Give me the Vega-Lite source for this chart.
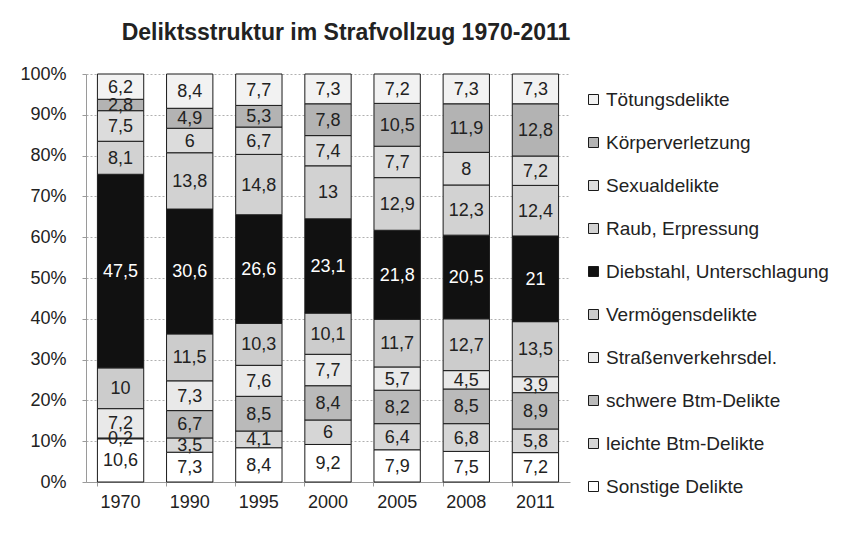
{
  "$schema": "https://vega.github.io/schema/vega-lite/v6.json",
  "autosize": {"type": "none"},
  "padding": {"left": 86, "top": 74, "right": 271, "bottom": 54},
  "width": 484,
  "height": 408,
  "background": "white",
  "title": {
    "text": "Deliktsstruktur im Strafvollzug 1970-2011",
    "font": "Liberation Sans",
    "fontSize": 23,
    "fontWeight": "bold",
    "color": "#222222",
    "anchor": "middle",
    "dx": 18,
    "offset": 20
  },
  "data": {
    "values": [
      {"year": "1970", "cat": "Sonstige Delikte", "k": 1, "value": 10.6},
      {"year": "1970", "cat": "schwere Btm-Delikte", "k": 3, "value": 0.2},
      {"year": "1970", "cat": "Straßenverkehrsdel.", "k": 4, "value": 7.2},
      {"year": "1970", "cat": "Vermögensdelikte", "k": 5, "value": 10},
      {"year": "1970", "cat": "Diebstahl, Unterschlagung", "k": 6, "value": 47.5},
      {"year": "1970", "cat": "Raub, Erpressung", "k": 7, "value": 8.1},
      {"year": "1970", "cat": "Sexualdelikte", "k": 8, "value": 7.5},
      {"year": "1970", "cat": "Körperverletzung", "k": 9, "value": 2.8},
      {"year": "1970", "cat": "Tötungsdelikte", "k": 10, "value": 6.2},

      {"year": "1990", "cat": "Sonstige Delikte", "k": 1, "value": 7.3},
      {"year": "1990", "cat": "leichte Btm-Delikte", "k": 2, "value": 3.5},
      {"year": "1990", "cat": "schwere Btm-Delikte", "k": 3, "value": 6.7},
      {"year": "1990", "cat": "Straßenverkehrsdel.", "k": 4, "value": 7.3},
      {"year": "1990", "cat": "Vermögensdelikte", "k": 5, "value": 11.5},
      {"year": "1990", "cat": "Diebstahl, Unterschlagung", "k": 6, "value": 30.6},
      {"year": "1990", "cat": "Raub, Erpressung", "k": 7, "value": 13.8},
      {"year": "1990", "cat": "Sexualdelikte", "k": 8, "value": 6},
      {"year": "1990", "cat": "Körperverletzung", "k": 9, "value": 4.9},
      {"year": "1990", "cat": "Tötungsdelikte", "k": 10, "value": 8.4},

      {"year": "1995", "cat": "Sonstige Delikte", "k": 1, "value": 8.4},
      {"year": "1995", "cat": "leichte Btm-Delikte", "k": 2, "value": 4.1},
      {"year": "1995", "cat": "schwere Btm-Delikte", "k": 3, "value": 8.5},
      {"year": "1995", "cat": "Straßenverkehrsdel.", "k": 4, "value": 7.6},
      {"year": "1995", "cat": "Vermögensdelikte", "k": 5, "value": 10.3},
      {"year": "1995", "cat": "Diebstahl, Unterschlagung", "k": 6, "value": 26.6},
      {"year": "1995", "cat": "Raub, Erpressung", "k": 7, "value": 14.8},
      {"year": "1995", "cat": "Sexualdelikte", "k": 8, "value": 6.7},
      {"year": "1995", "cat": "Körperverletzung", "k": 9, "value": 5.3},
      {"year": "1995", "cat": "Tötungsdelikte", "k": 10, "value": 7.7},

      {"year": "2000", "cat": "Sonstige Delikte", "k": 1, "value": 9.2},
      {"year": "2000", "cat": "leichte Btm-Delikte", "k": 2, "value": 6},
      {"year": "2000", "cat": "schwere Btm-Delikte", "k": 3, "value": 8.4},
      {"year": "2000", "cat": "Straßenverkehrsdel.", "k": 4, "value": 7.7},
      {"year": "2000", "cat": "Vermögensdelikte", "k": 5, "value": 10.1},
      {"year": "2000", "cat": "Diebstahl, Unterschlagung", "k": 6, "value": 23.1},
      {"year": "2000", "cat": "Raub, Erpressung", "k": 7, "value": 13},
      {"year": "2000", "cat": "Sexualdelikte", "k": 8, "value": 7.4},
      {"year": "2000", "cat": "Körperverletzung", "k": 9, "value": 7.8},
      {"year": "2000", "cat": "Tötungsdelikte", "k": 10, "value": 7.3},

      {"year": "2005", "cat": "Sonstige Delikte", "k": 1, "value": 7.9},
      {"year": "2005", "cat": "leichte Btm-Delikte", "k": 2, "value": 6.4},
      {"year": "2005", "cat": "schwere Btm-Delikte", "k": 3, "value": 8.2},
      {"year": "2005", "cat": "Straßenverkehrsdel.", "k": 4, "value": 5.7},
      {"year": "2005", "cat": "Vermögensdelikte", "k": 5, "value": 11.7},
      {"year": "2005", "cat": "Diebstahl, Unterschlagung", "k": 6, "value": 21.8},
      {"year": "2005", "cat": "Raub, Erpressung", "k": 7, "value": 12.9},
      {"year": "2005", "cat": "Sexualdelikte", "k": 8, "value": 7.7},
      {"year": "2005", "cat": "Körperverletzung", "k": 9, "value": 10.5},
      {"year": "2005", "cat": "Tötungsdelikte", "k": 10, "value": 7.2},

      {"year": "2008", "cat": "Sonstige Delikte", "k": 1, "value": 7.5},
      {"year": "2008", "cat": "leichte Btm-Delikte", "k": 2, "value": 6.8},
      {"year": "2008", "cat": "schwere Btm-Delikte", "k": 3, "value": 8.5},
      {"year": "2008", "cat": "Straßenverkehrsdel.", "k": 4, "value": 4.5},
      {"year": "2008", "cat": "Vermögensdelikte", "k": 5, "value": 12.7},
      {"year": "2008", "cat": "Diebstahl, Unterschlagung", "k": 6, "value": 20.5},
      {"year": "2008", "cat": "Raub, Erpressung", "k": 7, "value": 12.3},
      {"year": "2008", "cat": "Sexualdelikte", "k": 8, "value": 8},
      {"year": "2008", "cat": "Körperverletzung", "k": 9, "value": 11.9},
      {"year": "2008", "cat": "Tötungsdelikte", "k": 10, "value": 7.3},

      {"year": "2011", "cat": "Sonstige Delikte", "k": 1, "value": 7.2},
      {"year": "2011", "cat": "leichte Btm-Delikte", "k": 2, "value": 5.8},
      {"year": "2011", "cat": "schwere Btm-Delikte", "k": 3, "value": 8.9},
      {"year": "2011", "cat": "Straßenverkehrsdel.", "k": 4, "value": 3.9},
      {"year": "2011", "cat": "Vermögensdelikte", "k": 5, "value": 13.5},
      {"year": "2011", "cat": "Diebstahl, Unterschlagung", "k": 6, "value": 21},
      {"year": "2011", "cat": "Raub, Erpressung", "k": 7, "value": 12.4},
      {"year": "2011", "cat": "Sexualdelikte", "k": 8, "value": 7.2},
      {"year": "2011", "cat": "Körperverletzung", "k": 9, "value": 12.8},
      {"year": "2011", "cat": "Tötungsdelikte", "k": 10, "value": 7.3}
    ]
  },
  "transform": [
    {"stack": "value", "groupby": ["year"], "sort": [{"field": "k", "order": "ascending"}], "offset": "normalize", "as": ["y0", "y1"]},
    {"calculate": "(datum.y0 + datum.y1) / 2", "as": "ymid"}
  ],
  "encoding": {
    "x": {
      "field": "year",
      "type": "ordinal",
      "title": null,
      "scale": {"paddingInner": 0.33, "paddingOuter": 0.165},
      "axis": {
        "labelAngle": 0,
        "labelFont": "Liberation Sans",
        "labelFontSize": 18,
        "labelColor": "#222222",
        "labelPadding": 7,
        "domainColor": "#9a9a9a",
        "tickColor": "#9a9a9a",
        "tickSize": 4,
        "bandPosition": 0
      }
    }
  },
  "layer": [
    {
      "mark": {"type": "bar", "stroke": "#1a1a1a", "strokeWidth": 1},
      "encoding": {
        "y": {
          "field": "y0",
          "type": "quantitative",
          "title": null,
          "scale": {"domain": [0, 1]},
          "axis": {
            "format": ".0%",
            "values": [0, 0.1, 0.2, 0.3, 0.4, 0.5, 0.6, 0.7, 0.8, 0.9, 1],
            "labelFont": "Liberation Sans",
            "labelFontSize": 18,
            "labelColor": "#222222",
            "labelPadding": 16,
            "grid": true,
            "gridColor": "#b0b0b0",
            "gridDash": [2, 2],
            "gridWidth": 1,
            "domainColor": "#9a9a9a",
            "tickColor": "#9a9a9a",
            "tickSize": 4
          }
        },
        "y2": {"field": "y1"},
        "color": {
          "field": "cat",
          "type": "nominal",
          "scale": {
            "domain": ["Tötungsdelikte", "Körperverletzung", "Sexualdelikte", "Raub, Erpressung", "Diebstahl, Unterschlagung", "Vermögensdelikte", "Straßenverkehrsdel.", "schwere Btm-Delikte", "leichte Btm-Delikte", "Sonstige Delikte"],
            "range": ["#f2f2f2", "#b3b3b3", "#dcdcdc", "#d2d2d2", "#111111", "#cccccc", "#e9e9e9", "#bababa", "#d6d6d6", "#ffffff"]
          },
          "legend": {
            "title": null,
            "orient": "none",
            "legendX": 498,
            "legendY": 16,
            "symbolType": "square",
            "symbolSize": 100,
            "symbolStrokeColor": "#1a1a1a",
            "symbolStrokeWidth": 1,
            "labelFont": "Liberation Sans",
            "labelFontSize": 19,
            "labelColor": "#222222",
            "labelOffset": 3,
            "labelLimit": 300,
            "rowPadding": 23
          }
        }
      }
    },
    {
      "mark": {"type": "text", "font": "Liberation Sans", "fontSize": 18, "baseline": "middle", "align": "center", "dy": 1},
      "encoding": {
        "y": {"field": "ymid", "type": "quantitative"},
        "text": {"field": "value", "type": "quantitative", "format": ".1~f"},
        "color": {
          "condition": {"test": "datum.cat === 'Diebstahl, Unterschlagung'", "value": "#ffffff"},
          "value": "#222222"
        }
      }
    }
  ],
  "config": {
    "locale": {"number": {"decimal": ",", "thousands": ".", "grouping": [3], "currency": ["", " €"]}},
    "view": {"stroke": null}
  }
}
